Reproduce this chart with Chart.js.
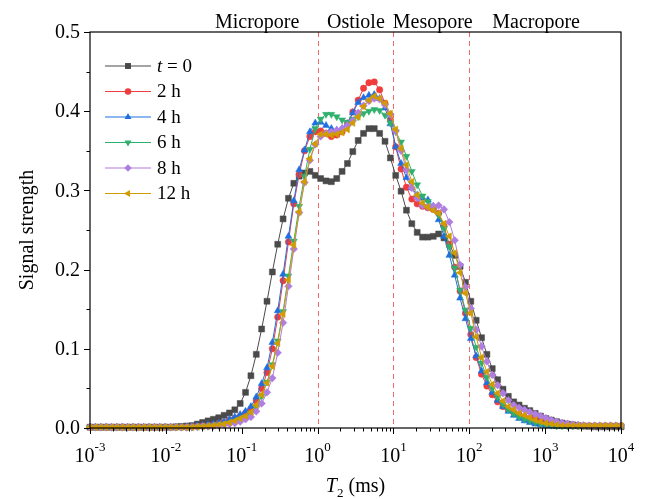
<!DOCTYPE html>
<html>
<head>
<meta charset="utf-8">
<script src="https://cdn.jsdelivr.net/npm/chart.js@4"></script>
<style>
  html, body { margin: 0; padding: 0; background: #fff; }
  canvas { display: block; }
</style>
</head>
<body>
<canvas id="myChart" width="647" height="499"></canvas>
<script>
// T2 relaxation grid (ms), 100 log-spaced points
const t2 = [
  0.001, 0.001177, 0.001385, 0.00163, 0.001918, 0.002257, 0.002656, 0.003126, 0.003678, 0.004329,
  0.005094, 0.005995, 0.007055, 0.008302, 0.00977, 0.0115, 0.01353, 0.01592, 0.01874, 0.02205,
  0.02595, 0.03054, 0.03594, 0.04229, 0.04977, 0.05857, 0.06893, 0.08111, 0.09545, 0.1123,
  0.1322, 0.1556, 0.1831, 0.2154, 0.2535, 0.2983, 0.3511, 0.4132, 0.4862, 0.5722,
  0.6734, 0.7924, 0.9326, 1.097, 1.292, 1.52, 1.789, 2.105, 2.477, 2.915,
  3.431, 4.037, 4.751, 5.591, 6.579, 7.743, 9.112, 10.72, 12.62, 14.85,
  17.48, 20.57, 24.2, 28.48, 33.52, 39.45, 46.42, 54.63, 64.28, 75.65,
  89.02, 104.8, 123.3, 145.1, 170.7, 200.9, 236.4, 278.3, 327.4, 385.3,
  453.5, 533.7, 628, 739.1, 869.7, 1023, 1204, 1417, 1668, 1963,
  2310, 2718, 3199, 3765, 4431, 5214, 6136, 7221, 8498, 10000
];

const seriesNames = ['t = 0', '2 h', '4 h', '6 h', '8 h', '12 h'];

const h0 = [
  0.001, 0.001, 0.001, 0.001, 0.001, 0.001, 0.001, 0.001, 0.001, 0.001,
  0.001, 0.001, 0.001, 0.001, 0.001, 0.001, 0.0015, 0.002, 0.0025, 0.003,
  0.005, 0.007, 0.009, 0.011, 0.013, 0.016, 0.019, 0.023, 0.031, 0.045,
  0.066, 0.093, 0.125, 0.160, 0.197, 0.232, 0.264, 0.290, 0.309, 0.318,
  0.322, 0.324, 0.319, 0.315, 0.312, 0.311, 0.315, 0.324, 0.334, 0.349,
  0.363, 0.372, 0.378, 0.378, 0.372, 0.362, 0.341, 0.319, 0.299, 0.275,
  0.258, 0.247, 0.241, 0.241, 0.242, 0.245, 0.240, 0.232, 0.218, 0.204,
  0.184, 0.160, 0.136, 0.114, 0.093, 0.075, 0.061, 0.049, 0.040, 0.033,
  0.029, 0.025, 0.022, 0.0185, 0.015, 0.012, 0.010, 0.008, 0.0063, 0.005,
  0.004, 0.003, 0.0025, 0.002, 0.0015, 0.0015, 0.0015, 0.0015, 0.0015, 0.0015
];

const h2 = [
  0.001, 0.001, 0.001, 0.001, 0.001, 0.001, 0.001, 0.001, 0.001, 0.001,
  0.001, 0.001, 0.001, 0.001, 0.001, 0.001, 0.001, 0.001, 0.001, 0.0015,
  0.002, 0.0025, 0.003, 0.004, 0.005, 0.007, 0.010, 0.012, 0.015, 0.019,
  0.024, 0.034, 0.050, 0.070, 0.100, 0.140, 0.186, 0.235, 0.283, 0.320,
  0.350, 0.368, 0.374, 0.375, 0.372, 0.368, 0.370, 0.374, 0.385, 0.399,
  0.414, 0.429, 0.436, 0.437, 0.427, 0.410, 0.389, 0.355, 0.327, 0.304,
  0.289, 0.283, 0.280, 0.278, 0.276, 0.271, 0.255, 0.231, 0.203, 0.173,
  0.145, 0.118, 0.089, 0.068, 0.053, 0.042, 0.033, 0.027, 0.023, 0.020,
  0.017, 0.014, 0.012, 0.010, 0.008, 0.0065, 0.005, 0.004, 0.0035, 0.003,
  0.0025, 0.0025, 0.0025, 0.0025, 0.0025, 0.0025, 0.0025, 0.0025, 0.0025, 0.0025
];

const h4 = [
  0.001, 0.001, 0.001, 0.001, 0.001, 0.001, 0.001, 0.001, 0.001, 0.001,
  0.001, 0.001, 0.001, 0.001, 0.001, 0.001, 0.001, 0.001, 0.0015, 0.002,
  0.0025, 0.003, 0.004, 0.005, 0.006, 0.008, 0.011, 0.014, 0.017, 0.021,
  0.027, 0.039, 0.056, 0.076, 0.108, 0.148, 0.194, 0.242, 0.287, 0.326,
  0.351, 0.374, 0.385, 0.386, 0.382, 0.378, 0.376, 0.378, 0.384, 0.398,
  0.411, 0.417, 0.420, 0.421, 0.416, 0.404, 0.384, 0.355, 0.334, 0.316,
  0.303, 0.294, 0.290, 0.288, 0.280, 0.263, 0.242, 0.218, 0.193, 0.164,
  0.138, 0.113, 0.091, 0.072, 0.057, 0.045, 0.035, 0.027, 0.021, 0.016,
  0.012, 0.009, 0.007, 0.005, 0.004, 0.003, 0.0025, 0.002, 0.002, 0.002,
  0.002, 0.002, 0.002, 0.002, 0.002, 0.002, 0.002, 0.002, 0.002, 0.002
];

const h6 = [
  0.001, 0.001, 0.001, 0.001, 0.001, 0.001, 0.001, 0.001, 0.001, 0.001,
  0.001, 0.001, 0.001, 0.001, 0.001, 0.001, 0.001, 0.001, 0.001, 0.001,
  0.0015, 0.002, 0.0025, 0.003, 0.004, 0.005, 0.006, 0.008, 0.011, 0.014,
  0.019, 0.027, 0.040, 0.058, 0.080, 0.110, 0.147, 0.192, 0.236, 0.280,
  0.318, 0.352, 0.378, 0.390, 0.396, 0.396, 0.393, 0.389, 0.386, 0.390,
  0.393, 0.397, 0.400, 0.402, 0.401, 0.395, 0.385, 0.374, 0.361, 0.343,
  0.324, 0.307, 0.293, 0.286, 0.279, 0.269, 0.252, 0.229, 0.202, 0.174,
  0.149, 0.126, 0.102, 0.082, 0.064, 0.050, 0.039, 0.030, 0.023, 0.018,
  0.014, 0.011, 0.009, 0.007, 0.005, 0.004, 0.0035, 0.0025, 0.0025, 0.0025,
  0.0025, 0.0025, 0.0025, 0.0025, 0.0025, 0.0025, 0.0025, 0.0025, 0.0025, 0.0025
];

const h8 = [
  0.001, 0.001, 0.001, 0.001, 0.001, 0.001, 0.001, 0.001, 0.001, 0.001,
  0.001, 0.001, 0.001, 0.001, 0.001, 0.001, 0.001, 0.001, 0.001, 0.001,
  0.0015, 0.002, 0.002, 0.0025, 0.003, 0.004, 0.005, 0.006, 0.008, 0.011,
  0.014, 0.021, 0.031, 0.045, 0.063, 0.095, 0.133, 0.179, 0.226, 0.272,
  0.310, 0.338, 0.358, 0.368, 0.372, 0.374, 0.376, 0.378, 0.382, 0.388,
  0.398, 0.407, 0.413, 0.416, 0.415, 0.408, 0.396, 0.375, 0.350, 0.326,
  0.303, 0.290, 0.281, 0.279, 0.280, 0.281, 0.276, 0.260, 0.237, 0.206,
  0.178, 0.151, 0.124, 0.103, 0.084, 0.067, 0.054, 0.044, 0.035, 0.029,
  0.0255, 0.023, 0.020, 0.0177, 0.015, 0.0125, 0.010, 0.008, 0.0065, 0.0055,
  0.0045, 0.004, 0.0035, 0.003, 0.003, 0.003, 0.003, 0.003, 0.003, 0.003
];

const h12 = [
  0.001, 0.001, 0.001, 0.001, 0.001, 0.001, 0.001, 0.001, 0.001, 0.001,
  0.001, 0.001, 0.001, 0.001, 0.001, 0.001, 0.001, 0.001, 0.001, 0.001,
  0.0015, 0.002, 0.0025, 0.003, 0.004, 0.005, 0.007, 0.009, 0.012, 0.015,
  0.020, 0.029, 0.042, 0.057, 0.078, 0.107, 0.144, 0.187, 0.231, 0.273,
  0.311, 0.340, 0.359, 0.371, 0.371, 0.370, 0.371, 0.373, 0.377, 0.385,
  0.393, 0.406, 0.414, 0.419, 0.416, 0.410, 0.397, 0.377, 0.353, 0.332,
  0.311, 0.294, 0.284, 0.279, 0.275, 0.271, 0.258, 0.242, 0.221, 0.196,
  0.170, 0.145, 0.115, 0.089, 0.071, 0.055, 0.044, 0.034, 0.027, 0.023,
  0.0185, 0.016, 0.013, 0.010, 0.008, 0.006, 0.005, 0.004, 0.003, 0.003,
  0.003, 0.003, 0.003, 0.003, 0.003, 0.003, 0.003, 0.003, 0.003, 0.003
];

const xTickPowers = [-3, -2, -1, 0, 1, 2, 3, 4];
const yTicks = [0.0, 0.1, 0.2, 0.3, 0.4, 0.5];
const dividers = [1, 10, 100];
const regionNames = ['Micropore', 'Ostiole', 'Mesopore', 'Macropore'];

document.addEventListener('DOMContentLoaded', () => {
    const ctx = document.getElementById('myChart');
    const serif = '"Liberation Serif", "Times New Roman", serif';

    const looks = [
        { color: '#4a4a4a', style: 'rect', rot: 0, r: 4.2 },
        { color: '#f03c3c', style: 'circle', rot: 0, r: 3.2 },
        { color: '#1f6fe0', style: 'triangle', rot: 0, r: 4 },
        { color: '#2fb06c', style: 'triangle', rot: 180, r: 4 },
        { color: '#b07de0', style: 'rectRot', rot: 0, r: 3.8 },
        { color: '#d09c00', style: 'triangle', rot: -90, r: 4 }
    ];
    const values = [h0, h2, h4, h6, h8, h12];

    const datasets = values.map((vals, i) => ({
        label: seriesNames[i],
        data: t2.map((t, k) => ({ x: t, y: vals[k] })),
        borderColor: looks[i].color,
        backgroundColor: looks[i].color,
        pointBackgroundColor: looks[i].color,
        pointBorderColor: looks[i].color,
        pointBorderWidth: 0.5,
        pointStyle: looks[i].style,
        pointRotation: looks[i].rot,
        pointRadius: looks[i].r,
        pointHoverRadius: looks[i].r,
        borderWidth: 1,
        tension: 0,
        clip: 4,
        order: values.length - i // later series on top
    }));

    // same shapes as chart.js point styles, for the legend
    function marker(c, look, x, y) {
        const r = look.r;
        let rad = look.rot * Math.PI / 180;
        c.beginPath();
        if (look.style === 'circle') {
            c.arc(x, y, r, 0, Math.PI * 2);
        } else if (look.style === 'rect') {
            const s = Math.SQRT1_2 * r;
            c.rect(x - s, y - s, 2 * s, 2 * s);
        } else if (look.style === 'rectRot') {
            c.moveTo(x - r, y);
            c.lineTo(x, y - r);
            c.lineTo(x + r, y);
            c.lineTo(x, y + r);
        } else {
            for (let k = 0; k < 3; k++) {
                const px = x + Math.sin(rad) * r, py = y - Math.cos(rad) * r;
                k === 0 ? c.moveTo(px, py) : c.lineTo(px, py);
                rad += Math.PI * 2 / 3;
            }
        }
        c.closePath();
        c.fillStyle = look.color;
        c.fill();
    }

    const decor = {
        id: 'decor',
        beforeDatasetsDraw(chart) {
            const c = chart.ctx, a = chart.chartArea, x = chart.scales.x;
            c.save();
            c.strokeStyle = 'rgba(238, 90, 90, 0.9)';
            c.lineWidth = 1;
            c.setLineDash([5, 4]);
            dividers.forEach(v => {
                const px = Math.round(x.getPixelForValue(v)) + 0.5;
                c.beginPath();
                c.moveTo(px, a.top);
                c.lineTo(px, a.bottom);
                c.stroke();
            });
            c.restore();
        },
        afterDraw(chart) {
            const c = chart.ctx, a = chart.chartArea;
            const x = chart.scales.x, y = chart.scales.y;
            c.save();
            c.strokeStyle = '#000';
            c.fillStyle = '#000';
            c.lineWidth = 1.2;
            c.strokeRect(a.left, a.top, a.right - a.left, a.bottom - a.top);

            // x ticks (major + minor) and labels
            c.lineWidth = 1;
            c.beginPath();
            xTickPowers.forEach(p => {
                for (let m = 1; m <= 9; m++) {
                    const v = m * Math.pow(10, p);
                    if (v > x.max * 1.0001) break;
                    const px = Math.round(x.getPixelForValue(v)) + 0.5;
                    c.moveTo(px, a.bottom);
                    c.lineTo(px, a.bottom + (m === 1 ? 6 : 3.5));
                }
            });
            c.stroke();
            c.textBaseline = 'alphabetic';
            c.textAlign = 'left';
            xTickPowers.forEach(p => {
                const px = x.getPixelForValue(Math.pow(10, p));
                c.font = '20px ' + serif;
                const wb = c.measureText('10').width;
                c.font = '13px ' + serif;
                const we = c.measureText(String(p)).width;
                const left = px - (wb + we) / 2;
                c.font = '20px ' + serif;
                c.fillText('10', left, a.bottom + 34);
                c.font = '13px ' + serif;
                c.fillText(String(p), left + wb, a.bottom + 23);
            });

            // y ticks and labels
            c.beginPath();
            for (let v = 0; v <= 0.5001; v += 0.05) {
                const py = Math.round(y.getPixelForValue(v)) + 0.5;
                const major = Math.abs(v * 10 - Math.round(v * 10)) < 1e-6;
                c.moveTo(a.left, py);
                c.lineTo(a.left - (major ? 6 : 3.5), py);
            }
            c.stroke();
            c.font = '20px ' + serif;
            c.textAlign = 'right';
            c.textBaseline = 'middle';
            yTicks.forEach(v => {
                c.fillText(v.toFixed(1), a.left - 10, y.getPixelForValue(v) + 1);
            });

            // axis titles
            c.textAlign = 'left';
            c.textBaseline = 'alphabetic';
            c.font = 'italic 20px ' + serif;
            const wT = c.measureText('T').width;
            c.font = '13px ' + serif;
            const w2 = c.measureText('2').width;
            c.font = '20px ' + serif;
            const wr = c.measureText(' (ms)').width;
            let tx = (a.left + a.right) / 2 - (wT + w2 + wr) / 2;
            c.font = 'italic 20px ' + serif;
            c.fillText('T', tx, a.bottom + 64);
            c.font = '13px ' + serif;
            c.fillText('2', tx + wT, a.bottom + 69);
            c.font = '20px ' + serif;
            c.fillText(' (ms)', tx + wT + w2, a.bottom + 64);

            c.save();
            c.translate(33, (a.top + a.bottom) / 2);
            c.rotate(-Math.PI / 2);
            c.textAlign = 'center';
            c.fillText('Signal strength', 0, 0);
            c.restore();

            // pore region names above the frame
            const regionAt = [0.16, 3.2, 33, 760];
            c.textAlign = 'center';
            c.font = '20px ' + serif;
            regionNames.forEach((n, i) => {
                c.fillText(n, x.getPixelForValue(regionAt[i]), a.top - 4);
            });

            // legend
            const lx = 105, ly = 66, step = 25.5;
            chart.data.datasets.forEach((ds, i) => {
                const yy = ly + i * step;
                c.strokeStyle = looks[i].color;
                c.lineWidth = 1.2;
                c.beginPath();
                c.moveTo(lx, yy);
                c.lineTo(lx + 46, yy);
                c.stroke();
                marker(c, looks[i], lx + 23, yy);
                c.fillStyle = '#000';
                c.textAlign = 'left';
                c.textBaseline = 'middle';
                if (i === 0) {
                    c.font = 'italic 19px ' + serif;
                    c.fillText('t', lx + 52, yy + 1);
                    const wt = c.measureText('t').width;
                    c.font = '19px ' + serif;
                    c.fillText(' = 0', lx + 52 + wt, yy + 1);
                } else {
                    c.font = '19px ' + serif;
                    c.fillText(ds.label, lx + 52, yy + 1);
                }
            });
            c.restore();
        }
    };

    new Chart(ctx, {
        type: 'line',
        data: { datasets },
        options: {
            responsive: false,
            animation: false,
            layout: { padding: { left: 90, right: 26, top: 32, bottom: 71 } },
            plugins: {
                legend: { display: false },
                tooltip: { enabled: false }
            },
            scales: {
                x: { type: 'logarithmic', min: 0.001, max: 10000, display: false },
                y: { type: 'linear', min: 0, max: 0.5, display: false }
            }
        },
        plugins: [decor]
    });
});
</script>
</body>
</html>
